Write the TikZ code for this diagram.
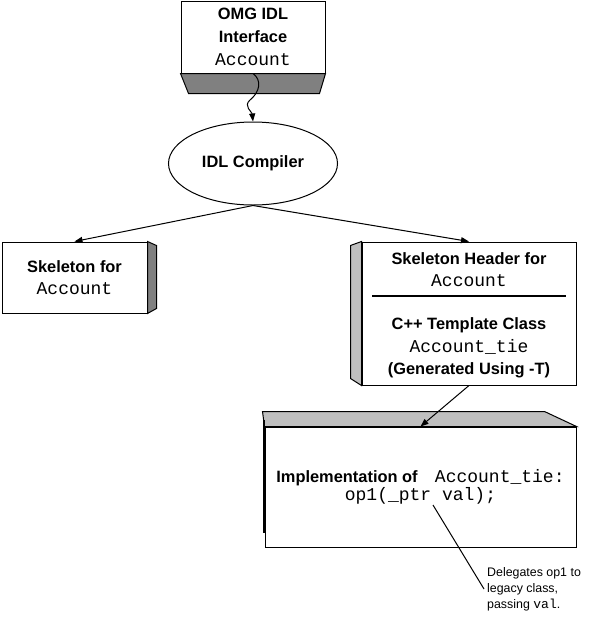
\documentclass[tikz,border=0pt]{standalone}
\usepackage{fontspec}
\setmainfont{Liberation Sans}
\setmonofont{Liberation Mono}
\usetikzlibrary{shapes.geometric,arrows.meta}

\newcommand{\codetext}[1]{{\fontsize{13.5}{17}\selectfont\ttfamily\mdseries #1}}

\begin{document}
\begin{tikzpicture}[x=0.75pt,y=-0.75pt,line width=0.75pt,
  front/.style={draw,fill=white,inner sep=0pt,align=center},
  heading/.style={font=\fontsize{12.3}{17}\selectfont\bfseries},
  flow/.style={-{Triangle[length=6pt,width=4.5pt]}},
  darkside/.style={draw,fill=black!50},
  lightside/.style={draw,fill=black!25}]
\useasboundingbox (0,0) rectangle (595,618);

% IDL source
\node[front,heading,minimum width=108pt,minimum height=54pt] (idl) at (253,37)
  {OMG IDL\\Interface\\\codetext{Account}};
\draw[darkside] (idl.south west) -- (idl.south east) -- ++(-6,20) -- ++(-131,0) -- cycle;

% compiler
\node[draw,ellipse,heading,minimum width=126.75pt,minimum height=62.25pt,inner sep=0pt] (idlc) at (253,163.5) {IDL Compiler};

% skeleton
\node[front,heading,minimum width=108.75pt,minimum height=53.25pt] (skel) at (74.5,277.5)
  {Skeleton for\\\codetext{Account}};
\draw[darkside] (skel.north east) -- ++(9,4) -- ++(0,63) -- (skel.south east) -- cycle;

% skeleton header
\node[front,minimum width=160.5pt,minimum height=107.25pt] (rhdr) at (469,313.5) {};
\draw[lightside] (rhdr.north west) -- ++(-11,4) -- ++(0,133) -- (rhdr.south west) -- cycle;
\node[heading,align=center,inner sep=0pt] (rtop) at (469,269.5) {Skeleton Header for\\\codetext{Account}};
\draw[line width=1.6pt] (372,296) -- (566,296);
\node[heading,align=center,inner sep=0pt] (rbot) at (469,348)
  {C++ Template Class\\\codetext{Account\_tie}\\(Generated Using -T)};

% implementation
\node[front,minimum width=233.25pt,minimum height=90pt] (impl) at (420.5,487)
  {{\fontsize{12.3}{17}\selectfont\bfseries Implementation of}\hspace{13pt}\codetext{Account\_tie:}\\\codetext{op1(\_ptr val);}};
\draw[lightside] (impl.north west) -- ++(-2,-15) -- ++(282,0) -- (impl.north east) -- cycle;
\draw[line width=2.2pt] (264,420) -- (264,533);

% note
\node[anchor=west,align=left,inner sep=2pt,font=\fontsize{9.3}{12}\selectfont] (note) at (484,589)
  {Delegates op1 to\\legacy class,\\passing {\fontsize{9.8}{12}\selectfont\ttfamily val}.};
\coordinate (valpt) at (433,505);

% connectors
\draw[flow] (idl.south) .. controls (262,80) and (260,92) .. (250,100)
  .. controls (243,106) and (252,112) .. (idlc.north);
\draw[flow] (idlc.south) -- (skel.north);
\draw[flow] (idlc.south) -- (rhdr.north);
\draw[flow] (rhdr.south) -- (impl.north);
\draw (valpt) -- (note.west);
\end{tikzpicture}
\end{document}
